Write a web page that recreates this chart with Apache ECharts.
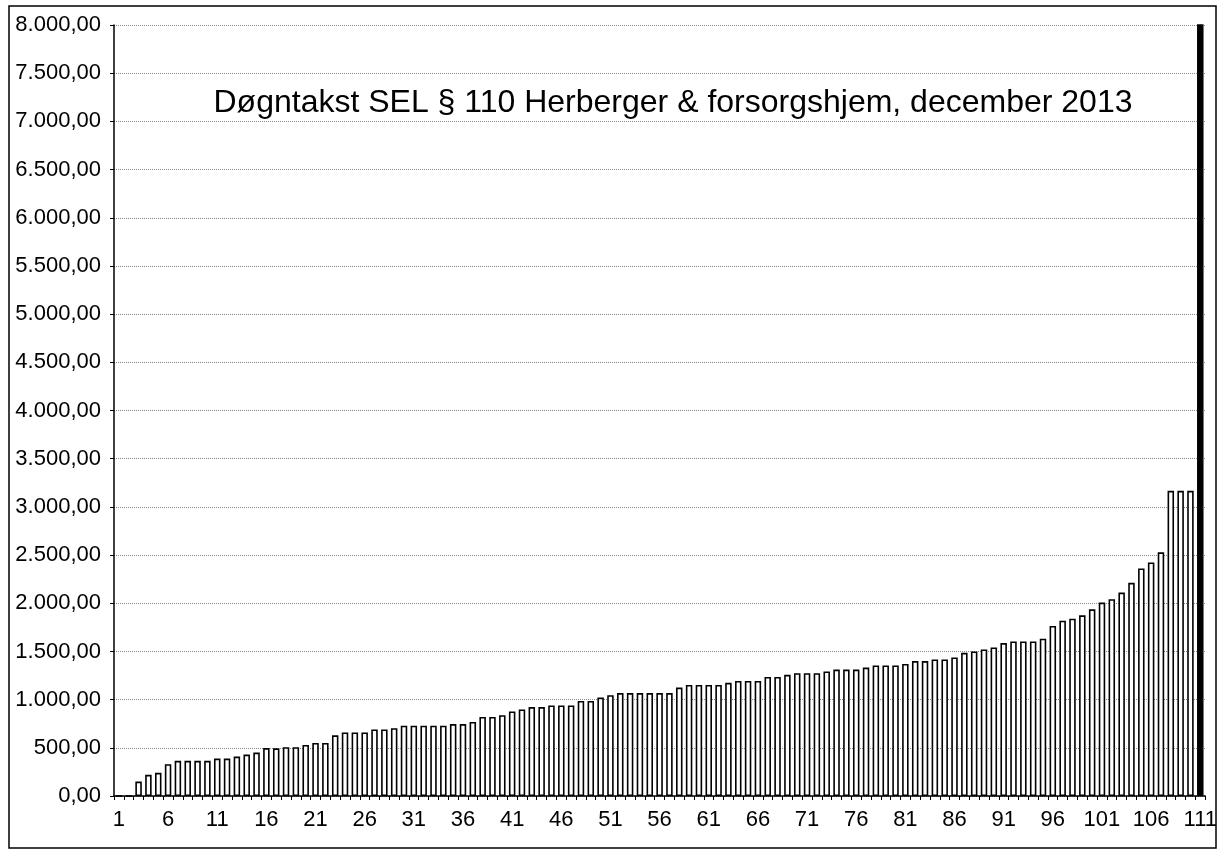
<!DOCTYPE html>
<html>
<head>
<meta charset="utf-8">
<script src="https://cdn.jsdelivr.net/npm/echarts@6/dist/echarts.min.js"></script>
<style>
html,body{margin:0;padding:0;background:#fff;}
#chart{width:1220px;height:851px;}
</style>
</head>
<body>
<div id="chart"></div>
<script>
const titleText = "Døgntakst SEL § 110 Herberger & forsorgshjem, december 2013";

const categories = [
  "1","2","3","4","5","6","7","8","9","10",
  "11","12","13","14","15","16","17","18","19","20",
  "21","22","23","24","25","26","27","28","29","30",
  "31","32","33","34","35","36","37","38","39","40",
  "41","42","43","44","45","46","47","48","49","50",
  "51","52","53","54","55","56","57","58","59","60",
  "61","62","63","64","65","66","67","68","69","70",
  "71","72","73","74","75","76","77","78","79","80",
  "81","82","83","84","85","86","87","88","89","90",
  "91","92","93","94","95","96","97","98","99","100",
  "101","102","103","104","105","106","107","108","109","110",
  "111"
];

const values = [
  0, 0, 150, 220, 240, 330, 365, 365, 365, 365,
  388, 388, 409, 430, 451, 497, 495, 507, 507, 530,
  550, 550, 630, 660, 660, 660, 690, 690, 704, 729,
  729, 729, 729, 729, 746, 746, 768, 820, 820, 838,
  877, 898, 923, 923, 940, 940, 940, 986, 986, 1021,
  1046, 1068, 1068, 1068, 1068, 1068, 1068, 1125, 1153, 1153,
  1153, 1153, 1174, 1194, 1194, 1194, 1236, 1236, 1257, 1274,
  1274, 1274, 1292, 1312, 1312, 1312, 1333, 1354, 1354, 1354,
  1370, 1400, 1400, 1417, 1417, 1438, 1486, 1500, 1521, 1542,
  1587, 1604, 1604, 1604, 1632, 1764, 1819, 1840, 1875, 1937,
  2007, 2042, 2111, 2212, 2361, 2424, 2528, 3167, 3167, 3167,
  8500
];

const yMin = 0, yMax = 8000, yStep = 500;

function fmt(v) {
  const s = Math.round(v).toString().replace(/\B(?=(\d{3})+(?!\d))/g, ".");
  return s + ",00";
}

const barData = values.map(function (v, i) {
  return v > yMax ? {value: v, itemStyle: {color: '#000'}} : v;
});

const chart = echarts.init(document.getElementById('chart'), null, {renderer: 'canvas'});
chart.setOption({
  backgroundColor: '#ffffff',
  animation: false,
  grid: {left: 114, right: 14, top: 25, bottom: 55, containLabel: false},
  xAxis: {
    type: 'category',
    data: categories,
    boundaryGap: true,
    axisLine: {show: true, lineStyle: {color: '#000', width: 1.5}},
    axisTick: {show: true, interval: 0, length: 4, lineStyle: {color: '#000'}},
    axisLabel: {
      interval: 4, color: '#000', fontFamily: 'Liberation Sans, Arial', fontSize: 22, margin: 13
    },
    splitLine: {show: false}
  },
  yAxis: {
    type: 'value',
    min: yMin, max: yMax, interval: yStep,
    axisLine: {show: true, lineStyle: {color: '#000', width: 1.5}},
    axisTick: {show: true, length: 4, lineStyle: {color: '#000'}},
    axisLabel: {
      formatter: fmt, color: '#000', fontFamily: 'Liberation Sans, Arial', fontSize: 22, margin: 13
    },
    splitLine: {show: true, lineStyle: {color: '#888', type: 'dotted', width: 1}}
  },
  series: [{
    type: 'bar',
    data: barData,
    barWidth: '66%',
    clip: true,
    itemStyle: {color: '#ffffff', borderColor: '#000', borderWidth: 1.6}
  }],
  graphic: [
    {
      type: 'rect', silent: true,
      shape: {x: 9, y: 6, width: 1207, height: 842},
      style: {fill: 'none', stroke: '#000', lineWidth: 1.5}
    },
    {
      type: 'text', silent: true,
      x: 673, y: 103,
      style: {
        text: titleText, fill: '#000',
        font: '32px "Liberation Sans", Arial, sans-serif',
        textAlign: 'center', textVerticalAlign: 'middle'
      }
    }
  ]
});
</script>
</body>
</html>
